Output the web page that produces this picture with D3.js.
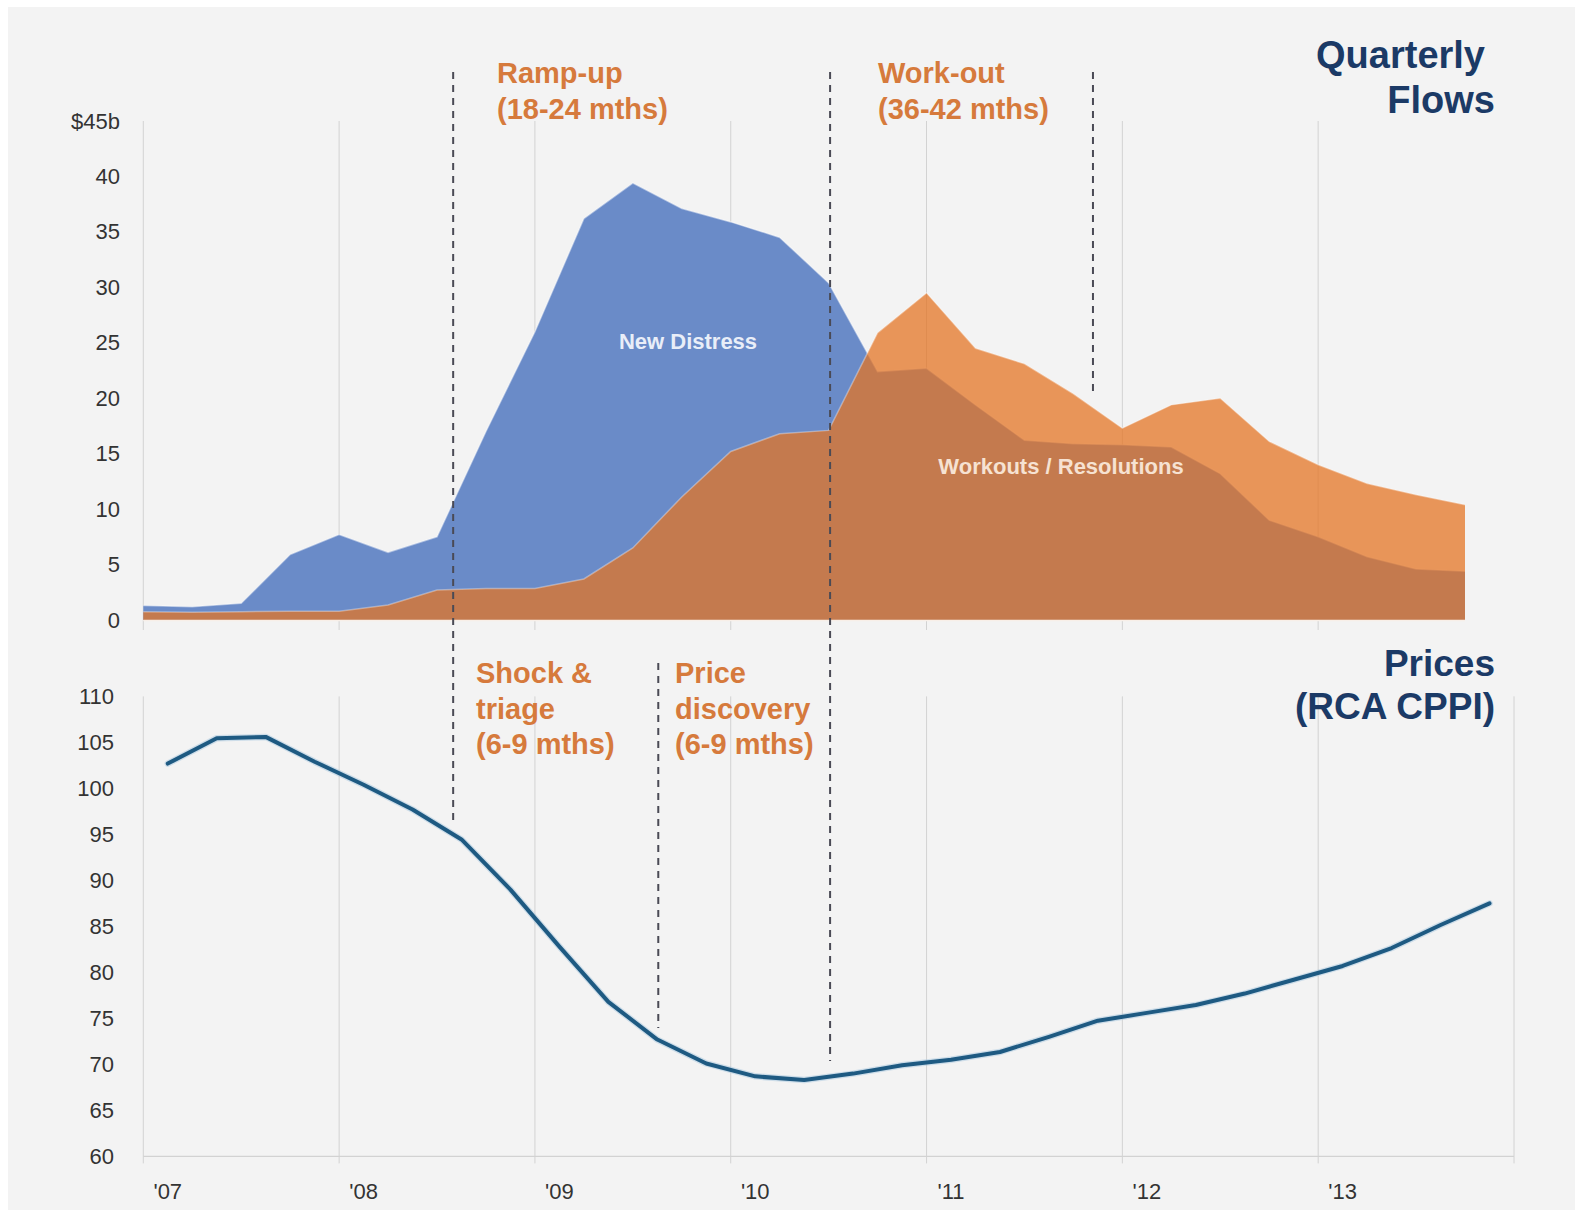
<!DOCTYPE html>
<html>
<head>
<meta charset="utf-8">
<script src="https://cdn.jsdelivr.net/npm/d3@7"></script>
<style>
  html, body { margin: 0; padding: 0; background: #ffffff; }
  svg { display: block; }
  text { font-family: "Liberation Sans", Arial, Helvetica, sans-serif; }
</style>
</head>
<body>
<svg id="chart" width="1575" height="1210"></svg>
<script>
// ---------------- DATA ----------------
const quarters = [
  "2007 Q1","2007 Q2","2007 Q3","2007 Q4",
  "2008 Q1","2008 Q2","2008 Q3","2008 Q4",
  "2009 Q1","2009 Q2","2009 Q3","2009 Q4",
  "2010 Q1","2010 Q2","2010 Q3","2010 Q4",
  "2011 Q1","2011 Q2","2011 Q3","2011 Q4",
  "2012 Q1","2012 Q2","2012 Q3","2012 Q4",
  "2013 Q1","2013 Q2","2013 Q3","2013 Q4"
];
const yearStarts = ["2007 Q1","2008 Q1","2009 Q1","2010 Q1","2011 Q1","2012 Q1","2013 Q1"];
const yearLabels = ["'07","'08","'09","'10","'11","'12","'13"];

// Quarterly flows, $b
const newDistress = [1.3,1.2,1.5,5.9,7.7,6.1,7.5,17.0,26.0,36.2,39.4,37.1,35.9,34.5,
                     30.4,22.4,22.7,19.4,16.2,15.9,15.8,15.6,13.2,9.0,7.5,5.7,4.6,4.4];
const workouts    = [0.75,0.7,0.75,0.8,0.8,1.35,2.7,2.85,2.85,3.7,6.5,11.1,15.2,16.8,
                     17.1,25.9,29.5,24.5,23.1,20.4,17.3,19.4,20.0,16.1,14.0,12.3,11.3,10.4];
// RCA CPPI
const cppi = [102.7,105.45,105.6,102.9,100.4,97.7,94.45,89.0,82.8,76.8,72.7,70.1,68.7,68.3,
              69.0,69.9,70.5,71.35,73.0,74.75,75.6,76.45,77.7,79.2,80.7,82.65,85.15,87.5];

const flowTicks  = [0,5,10,15,20,25,30,35,40,45];
const flowTickLabels = ["0","5","10","15","20","25","30","35","40","$45b"];
const priceTicks = [60,65,70,75,80,85,90,95,100,105,110];

// phase boundaries (in quarter index units)
const phaseBounds = [6.33, 10.52, 14.03, 19.4];

// ---------------- LAYOUT ----------------
const svg = d3.select("#chart");
const W = 1575, H = 1210;
const plotL = 143.3, topR = 1465, botR = 1514;
const topY0 = 620, topY45 = 121;
const botY60 = 1156.4, botY110 = 696.4;

const C = {
  bg: "#f3f3f3", grid: "#d2d2d2", text: "#333333",
  blue: "#6a8bc8", orange: "#e47423", phase: "#d67a3c",
  navy: "#1b3a66", line: "#1e5a82", dash: "#4a4a55"
};

svg.append("rect").attr("width", W).attr("height", H).attr("fill", "#ffffff");
svg.append("rect").attr("x", 8).attr("y", 7).attr("width", W - 8).attr("height", H - 7).attr("fill", C.bg);

// scales
const xTop = d3.scalePoint().domain(quarters).range([plotL, topR]).padding(0);
const xIdx = d3.scaleLinear().domain([0, quarters.length - 1]).range([plotL, topR]);
const yTop = d3.scaleLinear().domain([0, 45]).range([topY0, topY45]);
const xBot = d3.scaleBand().domain(quarters).range([plotL, botR]).padding(0);
const yBot = d3.scaleLinear().domain([60, 110]).range([botY60, botY110]);

// ---------------- TOP PANEL ----------------
const gTop = svg.append("g");
gTop.selectAll("line.vg").data(yearStarts).enter().append("line")
  .attr("x1", d => xTop(d)).attr("x2", d => xTop(d))
  .attr("y1", yTop(45)).attr("y2", topY0 + 10)
  .attr("stroke", C.grid).attr("stroke-width", 1);

gTop.selectAll("text.yt").data(flowTicks).enter().append("text")
  .attr("x", 120).attr("y", d => yTop(d))
  .attr("text-anchor", "end").attr("dominant-baseline", "central")
  .attr("font-size", 22).attr("fill", C.text)
  .text((d, i) => flowTickLabels[i]);

const flowData = quarters.map((q, i) => ({ q, nd: newDistress[i], wo: workouts[i] }));

const areaND = d3.area().x(d => xTop(d.q)).y0(yTop(0)).y1(d => yTop(d.nd));
const areaWO = d3.area().x(d => xTop(d.q)).y0(yTop(0)).y1(d => yTop(d.wo));
const lineND = d3.line().x(d => xTop(d.q)).y(d => yTop(d.nd));
const lineWO = d3.line().x(d => xTop(d.q)).y(d => yTop(d.wo));

gTop.append("path").datum(flowData).attr("d", areaND).attr("fill", C.blue);
gTop.append("path").datum(flowData).attr("d", lineND)
  .attr("fill", "none").attr("stroke", "#ffffff").attr("stroke-opacity", 0.45).attr("stroke-width", 1.5);
gTop.append("path").datum(flowData).attr("d", areaWO).attr("fill", C.orange).attr("fill-opacity", 0.74);
gTop.append("path").datum(flowData).attr("d", lineWO)
  .attr("fill", "none").attr("stroke", "#ffffff").attr("stroke-opacity", 0.35).attr("stroke-width", 1.5);

gTop.append("line").attr("x1", plotL).attr("x2", topR)
  .attr("y1", yTop(0) + 0.5).attr("y2", yTop(0) + 0.5)
  .attr("stroke", "#f8efe8").attr("stroke-width", 1.5);

gTop.append("text").attr("x", 688).attr("y", 349).attr("text-anchor", "middle")
  .attr("font-size", 22).attr("font-weight", "bold").attr("fill", "#e9eef8")
  .text("New Distress");
gTop.append("text").attr("x", 1061).attr("y", 474).attr("text-anchor", "middle")
  .attr("font-size", 22).attr("font-weight", "bold").attr("fill", "#f6e2d2")
  .text("Workouts / Resolutions");

// ---------------- BOTTOM PANEL ----------------
const gBot = svg.append("g");
const bw = xBot.bandwidth();
const gridXs = yearStarts.map(q => xBot(q)).concat([botR]);
gBot.selectAll("line.vg").data(gridXs).enter().append("line")
  .attr("x1", d => d).attr("x2", d => d)
  .attr("y1", yBot(110)).attr("y2", yBot(60) + 7)
  .attr("stroke", C.grid).attr("stroke-width", 1);
gBot.append("line").attr("x1", plotL).attr("x2", botR)
  .attr("y1", yBot(60)).attr("y2", yBot(60))
  .attr("stroke", C.grid).attr("stroke-width", 1.2);

gBot.selectAll("text.yt").data(priceTicks).enter().append("text")
  .attr("x", 114).attr("y", d => yBot(d))
  .attr("text-anchor", "end").attr("dominant-baseline", "central")
  .attr("font-size", 22).attr("fill", C.text)
  .text(d => d);

gBot.selectAll("text.xt").data(yearStarts).enter().append("text")
  .attr("x", d => xBot(d) + bw / 2).attr("y", 1199)
  .attr("text-anchor", "middle").attr("font-size", 22).attr("fill", C.text)
  .text((d, i) => yearLabels[i]);

const priceData = quarters.map((q, i) => ({ q, v: cppi[i] }));
const priceLine = d3.line().x(d => xBot(d.q) + bw / 2).y(d => yBot(d.v));
gBot.append("path").datum(priceData).attr("d", priceLine)
  .attr("fill", "none").attr("stroke", "#9fc3de").attr("stroke-opacity", 0.45)
  .attr("stroke-width", 6.5).attr("stroke-linejoin", "round").attr("stroke-linecap", "round");
gBot.append("path").datum(priceData).attr("d", priceLine)
  .attr("fill", "none").attr("stroke", C.line)
  .attr("stroke-width", 4).attr("stroke-linejoin", "round").attr("stroke-linecap", "round");

// ---------------- PHASE ANNOTATIONS ----------------
const dashSpans = [
  { x: phaseBounds[0], y1: 72, y2: 825 },
  { x: phaseBounds[1], y1: 663, y2: 1028 },
  { x: phaseBounds[2], y1: 72, y2: 1061 },
  { x: phaseBounds[3], y1: 72, y2: 397 }
];
svg.selectAll("line.dash").data(dashSpans).enter().append("line")
  .attr("x1", d => xIdx(d.x)).attr("x2", d => xIdx(d.x))
  .attr("y1", d => d.y1).attr("y2", d => d.y2)
  .attr("stroke", C.dash).attr("stroke-width", 2).attr("stroke-dasharray", "7,6");

function multiline(x, ys, lines, color, size) {
  const t = svg.append("text").attr("font-size", size).attr("font-weight", "bold").attr("fill", color);
  lines.forEach((s, i) => t.append("tspan").attr("x", x).attr("y", ys[i]).text(s));
  return t;
}
multiline(497, [83, 118.5], ["Ramp-up", "(18-24 mths)"], C.phase, 29);
multiline(878, [83, 118.5], ["Work-out", "(36-42 mths)"], C.phase, 29);
multiline(476, [683, 718.5, 754], ["Shock &", "triage", "(6-9 mths)"], C.phase, 29);
multiline(675, [683, 718.5, 754], ["Price", "discovery", "(6-9 mths)"], C.phase, 29);

// ---------------- PANEL TITLES ----------------
svg.append("text").attr("x", 1485).attr("y", 68).attr("text-anchor", "end")
  .attr("font-size", 38).attr("font-weight", "bold").attr("fill", C.navy).text("Quarterly");
svg.append("text").attr("x", 1495).attr("y", 113).attr("text-anchor", "end")
  .attr("font-size", 38).attr("font-weight", "bold").attr("fill", C.navy).text("Flows");
svg.append("text").attr("x", 1495).attr("y", 676).attr("text-anchor", "end")
  .attr("font-size", 37).attr("font-weight", "bold").attr("fill", C.navy).text("Prices");
svg.append("text").attr("x", 1495).attr("y", 719).attr("text-anchor", "end")
  .attr("font-size", 37).attr("font-weight", "bold").attr("fill", C.navy).text("(RCA CPPI)");
</script>
</body>
</html>
